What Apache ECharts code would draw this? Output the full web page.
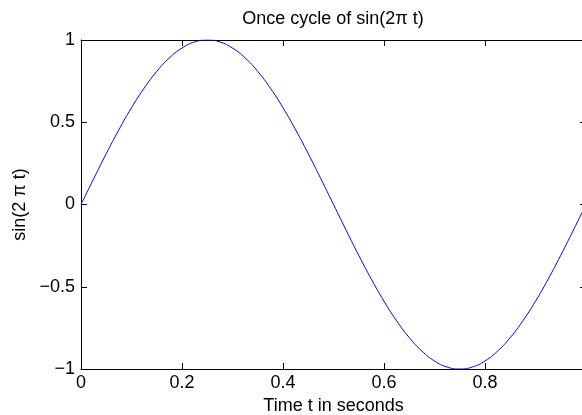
<!DOCTYPE html>
<html><head><meta charset="utf-8">
<script src="https://cdn.jsdelivr.net/npm/echarts@6/dist/echarts.min.js"></script>
<style>html,body{margin:0;padding:0;background:#fff;overflow:hidden}#c{width:582px;height:415px}</style>
</head><body><div id="c"></div>
<script>
const titleText = 'Once cycle of sin(2\u03c0 t)';
const xName = 'Time t in seconds';
const yName = 'sin(2 \u03c0 t)';
const tValues = [0, 0.025, 0.05, 0.075, 0.1, 0.125, 0.15, 0.175, 0.2, 0.225, 0.25, 0.275, 0.3, 0.325, 0.35, 0.375, 0.4, 0.425, 0.45, 0.475, 0.5, 0.525, 0.55, 0.575, 0.6, 0.625, 0.65, 0.675, 0.7, 0.725, 0.75, 0.775, 0.8, 0.825, 0.85, 0.875, 0.9, 0.925, 0.95, 0.975, 1];
const sinValues = [0, 0.156, 0.309, 0.454, 0.588, 0.707, 0.809, 0.891, 0.951, 0.988, 1, 0.988, 0.951, 0.891, 0.809, 0.707, 0.588, 0.454, 0.309, 0.156, 0, -0.156, -0.309, -0.454, -0.588, -0.707, -0.809, -0.891, -0.951, -0.988, -1, -0.988, -0.951, -0.891, -0.809, -0.707, -0.588, -0.454, -0.309, -0.156, 0];
const xRange = [0, 1];
const xStep = 0.2;
const yRange = [-1, 1];
const yStep = 0.5;

const FONT = "'Liberation Sans', Arial, Helvetica, sans-serif";
const minusFmt = v => String(v).replace('-', '\u2212');
const axisLine = { show: true, onZero: false, lineStyle: { color: '#000', width: 1 } };
const tick = { show: true, inside: true, length: 6, lineStyle: { color: '#000', width: 1 } };

const chart = echarts.init(document.getElementById('c'), null, { renderer: 'canvas' });
chart.setOption({
  animation: false,
  backgroundColor: '#fff',
  title: {
    text: titleText, left: 333, top: 10, textAlign: 'center', padding: 0,
    textStyle: { fontFamily: FONT, fontSize: 18, fontWeight: 'normal', color: '#000' }
  },
  grid: { left: 81, top: 40, right: -4, bottom: 46, containLabel: false, outerBoundsMode: 'none' },
  xAxis: [{
    type: 'value', min: xRange[0], max: xRange[1], interval: xStep, position: 'bottom',
    axisLine, axisTick: tick, splitLine: { show: false },
    axisLabel: { color: '#000', fontFamily: FONT, fontSize: 18, margin: 5, formatter: minusFmt },
    name: xName, nameLocation: 'middle', nameGap: 28,
    nameTextStyle: { color: '#000', fontFamily: FONT, fontSize: 18 }
  }, {
    type: 'value', min: xRange[0], max: xRange[1], interval: xStep, position: 'top',
    axisLine, axisTick: tick, splitLine: { show: false },
    axisLabel: { show: false }
  }],
  yAxis: [{
    type: 'value', min: yRange[0], max: yRange[1], interval: yStep, position: 'left',
    axisLine, axisTick: tick, splitLine: { show: false },
    axisLabel: { color: '#000', fontFamily: FONT, fontSize: 18, margin: 6, formatter: minusFmt },
    name: yName, nameLocation: 'middle', nameGap: 52,
    nameTextStyle: { color: '#000', fontFamily: FONT, fontSize: 18 }
  }, {
    type: 'value', min: yRange[0], max: yRange[1], interval: yStep, position: 'right',
    axisLine, axisTick: tick, splitLine: { show: false },
    axisLabel: { show: false }
  }],
  series: [{
    type: 'line', xAxisIndex: 0, yAxisIndex: 0,
    data: tValues.map((t, i) => [t, sinValues[i]]),
    smooth: 0.5, showSymbol: false, symbol: 'none',
    lineStyle: { color: '#0000ff', width: 1 }
  }]
});
</script></body></html>
